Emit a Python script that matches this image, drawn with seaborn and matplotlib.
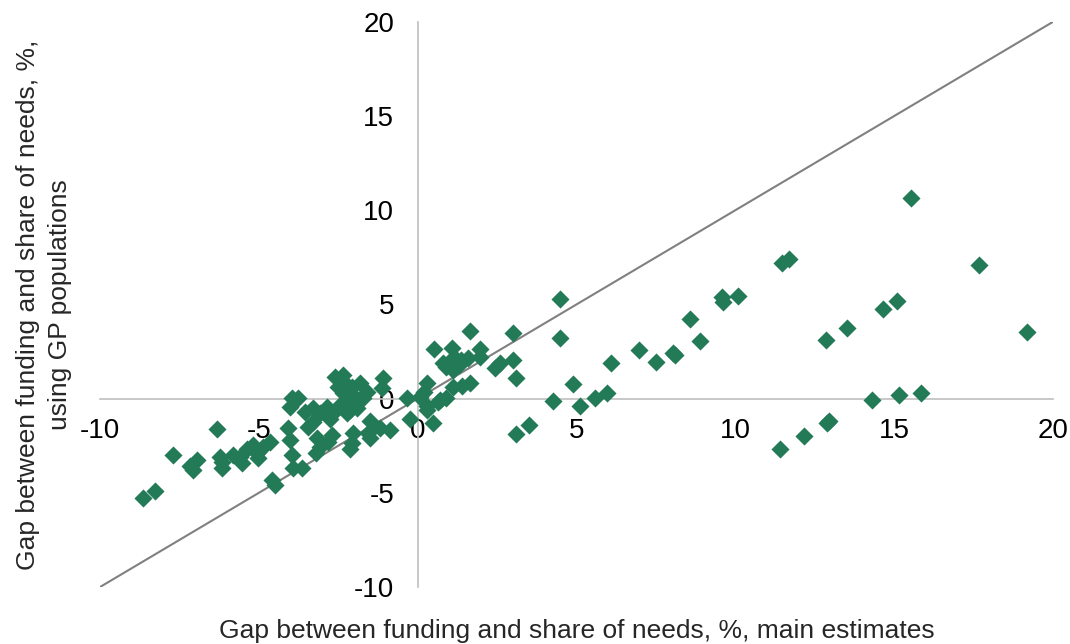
import matplotlib
matplotlib.use('Agg')

import matplotlib.pyplot as plt
import seaborn as sns
import pandas as pd

# gap between funding and share of needs (%), main estimates vs GP populations
gap_main = [15.52, 17.66, 19.2, 15.1, 14.64, 13.53, 12.87, 14.3, 15.17, 15.86,
            12.15, 12.95, 12.9, 11.4, 11.46, 11.7, 9.57, 9.6, 10.1, 8.56,
            8.9, 8.1, 8.05, 7.5, 6.96, 6.1, 5.95, 5.57, 5.1, 4.9,
            4.47, 4.47, 4.25, 3.5, 3.1, 3.0, 3.0, 3.1, 2.58, 2.42,
            1.95, 1.95, 1.64, 1.64, 1.4, 0.5, 1.07, 0.8, 1.16, 1.38,
            1.6, 0.9, 1.1, 1.3, 0.28, 0.06, 0.28, 0.63, 0.9, 0.47,
            -0.35, -0.25, 0.2, 0.3, 0.7, 1.1,
            -8.66, -8.28, -7.7, -7.18, -6.96, -7.08, -6.33, -6.23, -6.17, -6.17,
            -5.82, -5.6, -5.54, -5.38, -5.19, -5.07, -5.04, -4.88, -4.66, -4.5,
            -4.6, -3.97, -3.78, -4.03, -4.09, -4.03, -3.97, -3.93, -3.65, -3.2,
            -3.56, -3.3, -3.08, -2.86, -3.46, -3.3, -3.18, -3.08, -2.83, -2.7,
            -2.6, -2.36, -2.5, -2.23, -2.08, -1.83, -1.6, -1.73, -1.92, -2.23,
            -2.46, -2.68, -2.77, -2.23, -2.14, -1.92, -2.36, -2.05, -1.1, -1.13,
            -1.5, -1.57, -1.2, -0.88, -1.5, -2.05, -2.08, -2.14]
gap_gp = [10.67, 7.1, 3.56, 5.2, 4.78, 3.77, 3.13, -0.05, 0.2, 0.32,
          -2.0, -1.17, -1.3, -2.65, 7.2, 7.4, 5.4, 5.15, 5.47, 4.25,
          3.08, 2.34, 2.4, 1.97, 2.6, 1.9, 0.3, 0.05, -0.37, 0.8,
          3.24, 5.3, -0.1, -1.4, -1.9, 3.5, 2.07, 1.1, 1.9, 1.6,
          2.65, 2.2, 3.6, 0.85, 0.65, 2.65, 2.7, 1.9, 2.2, 2.07,
          2.15, 1.7, 1.5, 1.8, 0.85, 0.1, -0.4, -0.16, 0.05, -1.27,
          0.05, -1.1, 0.37, -0.58, -0.05, 0.64,
          -5.3, -4.9, -3.0, -3.6, -3.24, -3.77, -1.6, -3.1, -3.66, -3.35,
          -2.97, -3.08, -3.4, -2.7, -2.44, -2.87, -3.13, -2.55, -2.28, -4.57,
          -4.3, 0.05, 0.05, -0.42, -1.54, -2.18, -2.97, -3.66, -3.66, -2.87,
          -0.69, -0.48, -0.74, -0.42, -1.49, -1.22, -2.07, -2.55, -2.28, -1.91,
          1.17, 1.27, 0.64, 0.74, 0.64, 0.85, 0.37, 0.05, -0.21, -0.05,
          -0.32, -0.74, -1.1, -0.74, -0.58, -0.48, 0.32, 0.2, 1.1, 0.58,
          -1.2, -1.8, -1.54, -1.65, -2.07, -1.8, -2.34, -2.7]

ticks = [-10, -5, 0, 5, 10, 15, 20]
x_ticklabels = ['-10', '-5', '0', '5', '10', '15', '20']
y_ticklabels = ['-10', '-5', '0', '5', '10', '15', '20']

df = pd.DataFrame({'main': gap_main, 'gp': gap_gp})

sns.set_style('white')
plt.rcParams['font.family'] = ['Liberation Sans', 'DejaVu Sans']

fig = plt.figure(figsize=(10.7, 6.44), dpi=100)
ax = fig.add_axes([0.0935, 0.0885, 0.8905, 0.8775])

grey = '#bfbfbf'
ax.axline((0, 0), slope=1, color='#808080', linewidth=1.5, zorder=1)
sns.scatterplot(data=df, x='main', y='gp', marker='D', s=85, color='#237a57',
                linewidth=0, ax=ax, zorder=3)

ax.set_xlim(-10, 20)
ax.set_ylim(-10, 20)
ax.set_xticks(ticks, x_ticklabels)
ax.set_yticks(ticks, y_ticklabels)

# axes cross at zero
ax.spines['left'].set_position(('data', 0))
ax.spines['bottom'].set_position(('data', 0))
ax.spines['top'].set_visible(False)
ax.spines['right'].set_visible(False)
for s in ('left', 'bottom'):
    ax.spines[s].set_color(grey)
    ax.spines[s].set_linewidth(1.2)

ax.tick_params(axis='both', direction='out', length=3, width=1, color=grey,
               labelsize=20, labelcolor='black')
ax.tick_params(axis='x', pad=11)
ax.tick_params(axis='y', pad=14)

ax.set_xlabel('Gap between funding and share of needs, %, main estimates', fontsize=19)
ax.set_ylabel('Gap between funding and share of needs, %,\nusing GP populations',
              fontsize=19, linespacing=1.45)
ax.xaxis.set_label_coords(0.5, -0.057)
ax.yaxis.set_label_coords(-0.029, 0.5)

fig.savefig('out.png', dpi=100)
